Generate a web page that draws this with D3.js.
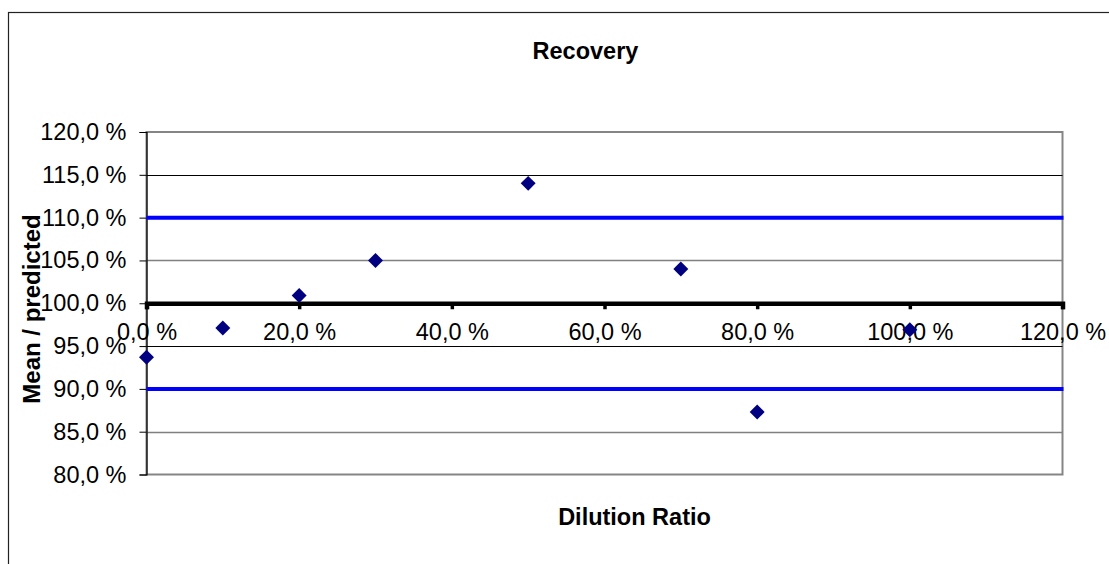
<!DOCTYPE html>
<html>
<head>
<meta charset="utf-8">
<script src="https://cdn.jsdelivr.net/npm/d3@7"></script>
<style>
  html, body { margin: 0; padding: 0; background: #fff; }
  svg { display: block; font-family: Arial, "Liberation Sans", sans-serif; }
</style>
</head>
<body>
<svg id="chart" width="1109" height="564"></svg>
<script>
// Dilution ratio (%) vs. mean / predicted recovery (%)
const dilution = [0, 10, 20, 30, 50, 70, 80, 100];
const recovery = [93.7, 97.1, 100.9, 105.0, 114.0, 104.0, 87.3, 96.9];

// Acceptance limits
const limits = [110, 90];

// Axis ticks
const xTicks = [0, 20, 40, 60, 80, 100, 120];
const yTicks = [80, 85, 90, 95, 100, 105, 110, 115, 120];
const gridValues = [115, 105, 95, 85];

const fmt = v => v.toFixed(1).replace(".", ",") + " %";

const svg = d3.select("#chart");

const plot = { left: 146.5, right: 1062.5, top: 132, bottom: 474.5 };

const x = d3.scaleLinear().domain([0, 120]).range([plot.left, plot.right]);
const y = d3.scaleLinear().domain([80, 120]).range([plot.bottom, plot.top]);

// Outer chart frame
svg.append("rect")
  .attr("x", 8.5).attr("y", 12.5)
  .attr("width", 1120).attr("height", 570)
  .attr("fill", "#fff")
  .attr("stroke", "#222").attr("stroke-width", 1.2);

// Plot area
svg.append("rect")
  .attr("x", plot.left).attr("y", plot.top)
  .attr("width", plot.right - plot.left).attr("height", plot.bottom - plot.top)
  .attr("fill", "#fff")
  .attr("stroke", "#858585").attr("stroke-width", 2);

// Horizontal gridlines
svg.append("g").selectAll("line")
  .data(gridValues)
  .join("line")
  .attr("x1", plot.left).attr("x2", plot.right)
  .attr("y1", d => Math.round(y(d)) + 0.5).attr("y2", d => Math.round(y(d)) + 0.5)
  .attr("stroke", (d, i) => i % 2 === 0 ? "#000" : "#808080")
  .attr("stroke-width", (d, i) => i % 2 === 0 ? 1 : 1.6);

// Y axis
const yAxis = svg.append("g")
  .attr("transform", `translate(${plot.left},0)`)
  .call(d3.axisLeft(y).tickValues(yTicks).tickFormat(fmt).tickSize(7).tickPadding(13));
yAxis.select(".domain").attr("stroke", "#000").attr("stroke-width", 1.2);
yAxis.selectAll(".tick line").attr("stroke", "#000");
yAxis.selectAll(".tick text")
  .attr("font-size", 23.5).attr("fill", "#000")
  .attr("font-family", "Arial, 'Liberation Sans', sans-serif");

// Limit lines
svg.append("g").selectAll("line")
  .data(limits)
  .join("line")
  .attr("x1", plot.left).attr("x2", plot.right + 1)
  .attr("y1", d => y(d)).attr("y2", d => y(d))
  .attr("stroke", "#0000ff").attr("stroke-width", 4);

// X axis crossing at 100 %
const xAxis = svg.append("g")
  .attr("transform", `translate(0,${y(100)})`)
  .call(d3.axisBottom(x).tickValues(xTicks).tickFormat(fmt).tickSize(6).tickPadding(14));
xAxis.select(".domain").attr("stroke", "#000").attr("stroke-width", 4.5);
xAxis.selectAll(".tick line").attr("stroke", "#000").attr("stroke-width", 3.5);
xAxis.selectAll(".tick text")
  .attr("font-size", 23.5).attr("fill", "#000")
  .attr("font-family", "Arial, 'Liberation Sans', sans-serif");

// Data points (diamonds)
const diamond = d3.symbol().type(d3.symbolSquare).size(112);
svg.append("g").selectAll("path")
  .data(dilution.map((d, i) => ({ x: d, y: recovery[i] })))
  .join("path")
  .attr("d", diamond)
  .attr("transform", d => `translate(${x(d.x)},${y(d.y)}) rotate(45)`)
  .attr("fill", "#000080");

// Titles
svg.append("text")
  .attr("x", 585.5).attr("y", 59)
  .attr("text-anchor", "middle")
  .attr("font-size", 23.5).attr("font-weight", "bold")
  .text("Recovery");

svg.append("text")
  .attr("x", 634.5).attr("y", 524.5)
  .attr("text-anchor", "middle")
  .attr("font-size", 23.5).attr("font-weight", "bold")
  .text("Dilution Ratio");

svg.append("text")
  .attr("transform", "translate(39.5,309) rotate(-90)")
  .attr("text-anchor", "middle")
  .attr("font-size", 24).attr("font-weight", "bold")
  .text("Mean / predicted");
</script>
</body>
</html>
